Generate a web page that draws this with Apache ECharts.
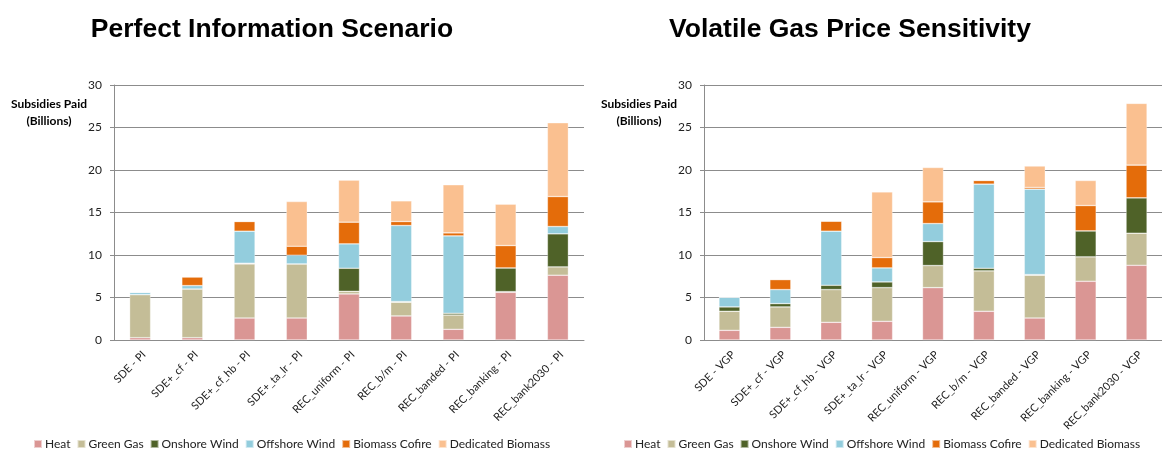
<!DOCTYPE html>
<html>
<head>
<meta charset="utf-8">
<script src="https://cdn.jsdelivr.net/npm/echarts@6/dist/echarts.min.js"></script>
<style>
html,body{margin:0;padding:0;background:#fff;}
#c{width:1162px;height:450px;}
</style>
</head>
<body>
<div id="c"></div>
<script>
var seriesNames = ['Heat', 'Green Gas', 'Onshore Wind', 'Offshore Wind', 'Biomass Cofire', 'Dedicated Biomass'];
var colors = ['#DA9694', '#C4BD97', '#4F6228', '#93CDDD', '#E46C0A', '#FAC090'];
var yTicks = [0, 5, 10, 15, 20, 25, 30];

var catsPI = ['SDE - PI', 'SDE+_cf - PI', 'SDE+_cf_hb - PI', 'SDE+_ta_lr - PI', 'REC_uniform - PI', 'REC_b/m - PI', 'REC_banded - PI', 'REC_banking - PI', 'REC_bank2030 - PI'];
var catsVGP = ['SDE - VGP', 'SDE+_cf - VGP', 'SDE+_cf_hb - VGP', 'SDE+_ta_lr - VGP', 'REC_uniform - VGP', 'REC_b/m - VGP', 'REC_banded - VGP', 'REC_banking - VGP', 'REC_bank2030 - VGP'];

// Perfect Information scenario (billions)
var heatPI      = [0.27, 0.27, 2.59, 2.59, 5.42, 2.83, 1.26, 5.61, 7.62];
var greenGasPI  = [5.07, 5.73, 6.36, 6.36, 0.31, 1.61, 1.68, 0.08, 0.98];
var onshorePI   = [0,    0,    0.08, 0,    2.71, 0.08, 0.20, 2.79, 3.89];
var offshorePI  = [0.27, 0.40, 3.77, 1.02, 2.87, 8.95, 9.11, 0,    0.86];
var cofirePI    = [0,    1.02, 1.14, 1.06, 2.55, 0.47, 0.35, 2.63, 3.53];
var dedicatedPI = [0,    0,    0,    5.26, 4.95, 2.43, 5.66, 4.87, 8.68];

// Volatile Gas Price sensitivity (billions)
var heatVGP      = [1.14, 1.49, 2.08, 2.20, 6.16, 3.38, 2.59, 6.91, 8.79];
var greenGasVGP  = [2.24, 2.40, 3.85, 3.96, 2.60, 4.75, 5.03, 2.87, 3.77];
var onshoreVGP   = [0.51, 0.39, 0.51, 0.67, 2.82, 0.31, 0.08, 3.06, 4.17];
var offshoreVGP  = [1.14, 1.65, 6.36, 1.65, 2.12, 9.90, 10.05, 0,   0];
var cofireVGP    = [0,    1.18, 1.18, 1.22, 2.55, 0.43, 0.20, 2.98, 3.84];
var dedicatedVGP = [0,    0,    0,    7.73, 4.05, 0,    2.52, 2.95, 7.27];

var dataPI = [heatPI, greenGasPI, onshorePI, offshorePI, cofirePI, dedicatedPI];
var dataVGP = [heatVGP, greenGasVGP, onshoreVGP, offshoreVGP, cofireVGP, dedicatedVGP];

var font = 'Lato, "Open Sans", sans-serif';
var gridColor = '#8c8c8c';

function xAxis(gi, cats) {
  return {
    type: 'category', gridIndex: gi, data: cats,
    axisLine: {lineStyle: {color: gridColor}},
    axisTick: {length: 4, lineStyle: {color: gridColor}},
    axisLabel: {rotate: 45, fontSize: 11, color: '#222', fontFamily: font, margin: 9, interval: 0,
                align: 'right', verticalAlign: 'top'}
  };
}
function yAxis(gi) {
  return {
    type: 'value', gridIndex: gi, min: yTicks[0], max: yTicks[yTicks.length - 1], interval: 5,
    axisLine: {show: true, lineStyle: {color: gridColor}},
    axisTick: {show: true, length: 4, lineStyle: {color: gridColor}},
    splitLine: {lineStyle: {color: gridColor, width: 1}},
    axisLabel: {fontSize: 12, color: '#222', fontFamily: font, margin: 12}
  };
}

var series = [];
[dataPI, dataVGP].forEach(function (set, gi) {
  set.forEach(function (arr, i) {
    series.push({
      name: seriesNames[i], type: 'bar', stack: 'g' + gi,
      xAxisIndex: gi, yAxisIndex: gi,
      barWidth: 21,
      itemStyle: {color: colors[i], borderColor: 'rgba(255,255,255,0.55)', borderWidth: 0.6},
      emphasis: {disabled: true},
      data: arr
    });
  });
});

function legend(left) {
  return {
    left: left, top: 438, padding: 0, itemWidth: 8, itemHeight: 8, itemGap: 6, icon: 'rect',
    textStyle: {fontSize: 12, color: '#222', fontFamily: font, padding: [0, 0, 0, -2]},
    data: seriesNames
  };
}

var titleStyle = {fontFamily: '"Liberation Sans", Arial, sans-serif', fontWeight: 'bold', fontSize: 26.5, color: '#000'};
var nameStyle = {fontFamily: font, fontWeight: 'bold', fontSize: 12, lineHeight: 17, color: '#000'};

var chart = echarts.init(document.getElementById('c'), null, {renderer: 'canvas'});
chart.setOption({
  animation: false,
  backgroundColor: '#fff',
  title: [
    {text: 'Perfect Information Scenario', left: 267, top: 11, textAlign: 'center', textStyle: titleStyle},
    {text: 'Volatile Gas Price Sensitivity', left: 845, top: 11, textAlign: 'center', textStyle: titleStyle},
    {text: 'Subsidies Paid\n(Billions)', left: 44, top: 91, textAlign: 'center', textStyle: nameStyle},
    {text: 'Subsidies Paid\n(Billions)', left: 634, top: 91, textAlign: 'center', textStyle: nameStyle}
  ],
  legend: [legend(33), legend(623)],
  grid: [
    {left: 114, top: 85, width: 470, height: 255},
    {left: 704, top: 85, width: 471, height: 255}
  ],
  xAxis: [xAxis(0, catsPI), xAxis(1, catsVGP)],
  yAxis: [yAxis(0), yAxis(1)],
  series: series
});
</script>
</body>
</html>
